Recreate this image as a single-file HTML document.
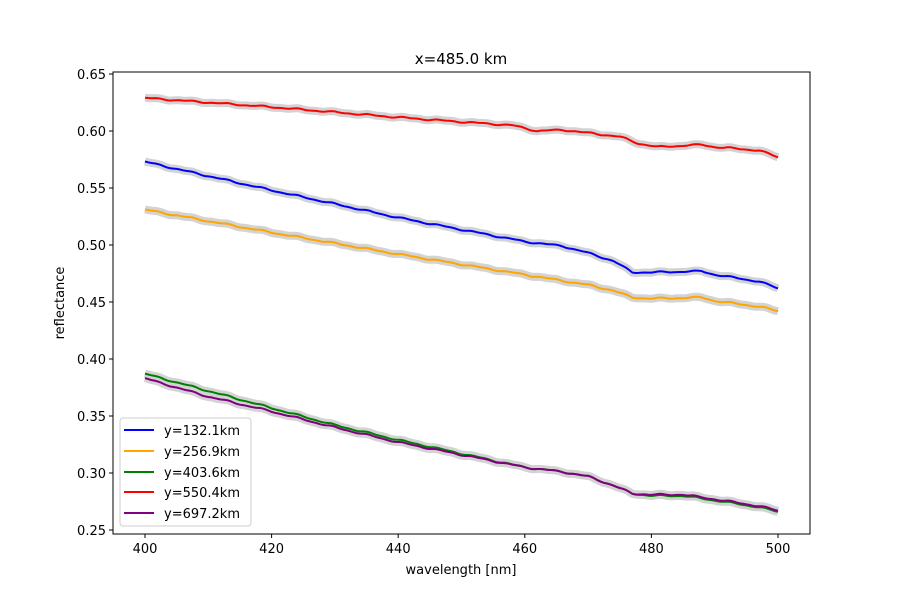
<!DOCTYPE html>
<html><head><meta charset="utf-8"><style>
body{margin:0;background:#fff}
svg{font-family:"DejaVu Sans","Liberation Sans",sans-serif}
</style></head><body>
<svg id="s" width="900" height="600" xmlns="http://www.w3.org/2000/svg">
<rect width="900" height="600" fill="#fff"/>
<g id="bands"></g>
<g id="lines"></g>
<rect x="113" y="72" width="697" height="462" fill="none" stroke="#000" stroke-width="1"/>
<g id="ticks" font-size="13" fill="#000"></g>
<text x="461" y="64" font-size="15" text-anchor="middle">x=485.0 km</text>
<text x="461" y="574" font-size="13" text-anchor="middle">wavelength [nm]</text>
<text transform="translate(64,303) rotate(-90)" font-size="13" text-anchor="middle">reflectance</text>
<g font-size="13">
<rect x="120" y="418" width="131" height="108" rx="3" fill="#fff" fill-opacity="0.8" stroke="#ccc"/>
<line x1="124" x2="154" y1="430" y2="430" stroke="blue" stroke-width="2"/><text x="164" y="435">y=132.1km</text>
<line x1="124" x2="154" y1="451" y2="451" stroke="orange" stroke-width="2"/><text x="164" y="456">y=256.9km</text>
<line x1="124" x2="154" y1="472" y2="472" stroke="green" stroke-width="2"/><text x="164" y="477">y=403.6km</text>
<line x1="124" x2="154" y1="492" y2="492" stroke="red" stroke-width="2"/><text x="164" y="497">y=550.4km</text>
<line x1="124" x2="154" y1="513" y2="513" stroke="purple" stroke-width="2"/><text x="164" y="518">y=697.2km</text>
</g>
</svg>
<script>
var NS="http://www.w3.org/2000/svg";
function X(x){return 145+(x-400)*6.33}
function Y(v){return 74+(0.65-v)*1140}
var t=document.getElementById("ticks");
function el(n,a,p,txt){var e=document.createElementNS(NS,n);for(var k in a)e.setAttribute(k,a[k]);if(txt)e.textContent=txt;p.appendChild(e);return e}
for(var x=400;x<=500;x+=20){el("line",{x1:X(x),x2:X(x),y1:534,y2:538,stroke:"#000"},t);el("text",{x:X(x),y:553,"text-anchor":"middle"},t,""+x)}
for(var i=0;i<9;i++){var v=0.25+i*0.05;el("line",{x1:109,x2:113,y1:Y(v),y2:Y(v),stroke:"#000"},t);el("text",{x:106,y:Y(v)+5,"text-anchor":"end"},t,v.toFixed(2))}
var S=[
["red",[[400,.629],[420,.621],[440,.612],[450,.608],[458,.605],[462,.600],[466,.601],[475,.595],[478,.589],[481,.586],[488,.588],[490,.586],[497,.583],[500,.577]]],
["blue",[[400,.573],[420,.548],[440,.524],[460,.503],[466,.499],[470,.493],[474,.486],[477,.476],[480,.476],[488,.477],[490,.474],[497,.468],[500,.462]]],
["orange",[[400,.531],[420,.511],[440,.492],[460,.474],[470,.465],[474,.460],[477,.454],[480,.453],[488,.454],[490,.451],[497,.446],[500,.442]]],
["green",[[400,.387],[410,.372],[420,.357],[430,.342],[440,.329],[450,.317],[460,.305],[466,.301],[470,.297],[474,.289],[477,.282],[480,.280],[485,.280],[490,.276],[497,.270],[500,.266]]],
["purple",[[400,.383],[410,.367],[420,.354],[430,.340],[440,.327],[450,.316],[460,.305],[466,.301],[470,.297],[474,.289],[477,.282],[480,.281],[485,.281],[490,.277],[497,.271],[500,.267]]]
];
function interp(p,x){for(var i=0;i<p.length-1;i++){if(x<=p[i+1][0]){var f=(x-p[i][0])/(p[i+1][0]-p[i][0]);return p[i][1]+f*(p[i+1][1]-p[i][1])}}return p[p.length-1][1]}
var B=document.getElementById("bands"),L=document.getElementById("lines");
S.forEach(function(s){var d="";for(var x=400;x<=500.01;x+=0.5){var w=0.0005*Math.sin(x*1.1)+0.0003*Math.sin(x*2.3);d+=(d?"L":"M")+X(x).toFixed(1)+","+Y(interp(s[1],x)+w).toFixed(1)}
el("path",{d:d,fill:"none",stroke:"#d3d3d3","stroke-width":8},B);
el("path",{d:d,fill:"none",stroke:s[0],"stroke-width":2},L)});
</script>
</body></html>
